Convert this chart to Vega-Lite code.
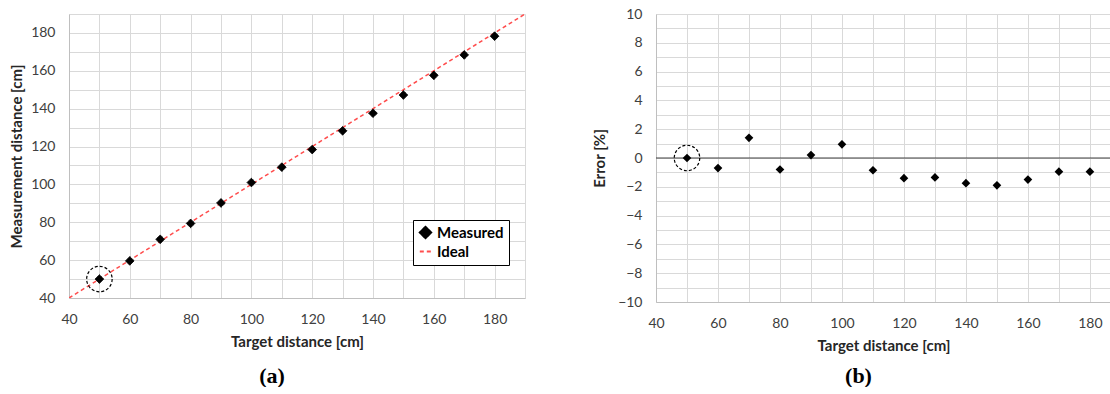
{
  "$schema": "https://vega.github.io/schema/vega-lite/v6.json",
  "padding": {"left": 9, "top": 7, "right": 0, "bottom": 0},
  "background": "white",
  "datasets": {
    "measured": [
      {"t": 50, "m": 50, "err": 0, "series": "Measured"},
      {"t": 60, "m": 59.6, "err": -0.7, "series": "Measured"},
      {"t": 70, "m": 71, "err": 1.4, "series": "Measured"},
      {"t": 80, "m": 79.4, "err": -0.8, "series": "Measured"},
      {"t": 90, "m": 90.2, "err": 0.2, "series": "Measured"},
      {"t": 100, "m": 101, "err": 0.95, "series": "Measured"},
      {"t": 110, "m": 109.1, "err": -0.85, "series": "Measured"},
      {"t": 120, "m": 118.4, "err": -1.4, "series": "Measured"},
      {"t": 130, "m": 128.3, "err": -1.35, "series": "Measured"},
      {"t": 140, "m": 137.6, "err": -1.75, "series": "Measured"},
      {"t": 150, "m": 147.2, "err": -1.9, "series": "Measured"},
      {"t": 160, "m": 157.6, "err": -1.5, "series": "Measured"},
      {"t": 170, "m": 168.4, "err": -0.95, "series": "Measured"},
      {"t": 180, "m": 178.3, "err": -0.95, "series": "Measured"}
    ],
    "ideal": [
      {"t": 40, "m": 40, "series": "Ideal"},
      {"t": 190, "m": 190, "series": "Ideal"}
    ],
    "circled": [{"t": 50, "m": 50, "err": 0}],
    "zero": [{"err": 0}]
  },
  "config": {
    "view": {"stroke": null},
    "font": "Lato",
    "axis": {
      "labelFont": "Lato", "labelFontSize": 14, "labelColor": "#404040",
      "titleFont": "Lato", "titleFontSize": 15, "titleFontWeight": "bold", "titleColor": "#262626",
      "gridColor": "#d9d9d9", "gridWidth": 1, "domainColor": "#bfbfbf",
      "ticks": false, "labelPadding": 14, "labelFlush": false, "labelOverlap": false, "tickCount": 200, "format": "d"
    }
  },
  "spacing": 67,
  "hconcat": [
    {
      "width": 456,
      "height": 284,
      "title": {"text": "(a)", "orient": "bottom", "font": "Liberation Serif", "fontSize": 22, "fontWeight": "bold", "color": "#000000", "dx": -25, "offset": 17},
      "layer": [
        {
          "data": {"name": "ideal"},
          "mark": {"type": "line", "strokeWidth": 1.5, "clip": true},
          "encoding": {
            "x": {"field": "t", "type": "quantitative", "scale": {"domain": [40, 190], "nice": false},
              "axis": {"title": "Target distance [cm]", "values": [40, 50, 60, 70, 80, 90, 100, 110, 120, 130, 140, 150, 160, 170, 180, 190], "labelExpr": "datum.value % 20 ? '' : datum.label", "titlePadding": 8, "tickCount": 200, "format": "d"}},
            "y": {"field": "m", "type": "quantitative", "scale": {"domain": [40, 190], "nice": false},
              "axis": {"title": "Measurement distance [cm]", "values": [40, 50, 60, 70, 80, 90, 100, 110, 120, 130, 140, 150, 160, 170, 180, 190], "labelExpr": "datum.value % 20 ? '' : datum.label", "titlePadding": 6, "tickCount": 200, "format": "d"}},
            "stroke": {"field": "series", "type": "nominal", "scale": {"domain": ["Measured", "Ideal"], "range": ["#000000", "#ff4d4d"]},
              "legend": {"title": null, "orient": "none", "legendX": 344, "legendY": 206, "strokeColor": "#000000", "fillColor": "#ffffff", "padding": 5, "labelFont": "Lato", "labelFontSize": 15, "labelFontWeight": "bold", "labelColor": "#000000", "symbolSize": 130, "symbolStrokeWidth": 2, "rowPadding": 1}},
            "strokeDash": {"field": "series", "type": "nominal", "scale": {"domain": ["Measured", "Ideal"], "range": [[1, 0], [4, 3]]},
              "legend": {"title": null, "orient": "none", "legendX": 344, "legendY": 206, "strokeColor": "#000000", "fillColor": "#ffffff", "padding": 5, "labelFont": "Lato", "labelFontSize": 15, "labelFontWeight": "bold", "labelColor": "#000000", "symbolSize": 130, "symbolStrokeWidth": 2, "rowPadding": 1}}
          }
        },
        {
          "data": {"name": "measured"},
          "mark": {"type": "point", "filled": true, "size": 75, "opacity": 1, "strokeWidth": 1},
          "encoding": {
            "x": {"field": "t", "type": "quantitative"},
            "y": {"field": "m", "type": "quantitative"},
            "fill": {"field": "series", "type": "nominal", "scale": {"domain": ["Measured", "Ideal"], "range": ["#000000", "#ff4d4d"]},
              "legend": {"title": null, "orient": "none", "legendX": 344, "legendY": 206, "strokeColor": "#000000", "fillColor": "#ffffff", "padding": 5, "labelFont": "Lato", "labelFontSize": 15, "labelFontWeight": "bold", "labelColor": "#000000", "symbolSize": 130, "symbolStrokeWidth": 2, "rowPadding": 1}},
            "stroke": {"field": "series", "type": "nominal"},
            "shape": {"field": "series", "type": "nominal", "scale": {"domain": ["Measured", "Ideal"], "range": ["diamond", "stroke"]},
              "legend": {"title": null, "orient": "none", "legendX": 344, "legendY": 206, "strokeColor": "#000000", "fillColor": "#ffffff", "padding": 5, "labelFont": "Lato", "labelFontSize": 15, "labelFontWeight": "bold", "labelColor": "#000000", "symbolSize": 130, "symbolStrokeWidth": 2, "rowPadding": 1}},
            "strokeDash": {"field": "series", "type": "nominal"}
          }
        },
        {
          "data": {"name": "circled"},
          "mark": {"type": "point", "shape": "circle", "size": 650, "filled": false, "stroke": "#000000", "strokeDash": [3, 2], "strokeWidth": 1.2, "opacity": 1},
          "encoding": {
            "x": {"field": "t", "type": "quantitative"},
            "y": {"field": "m", "type": "quantitative"}
          }
        }
      ]
    },
    {
      "width": 455,
      "height": 288,
      "title": {"text": "(b)", "orient": "bottom", "font": "Liberation Serif", "fontSize": 22, "fontWeight": "bold", "color": "#000000", "dx": -25, "offset": 13},
      "layer": [
        {
          "data": {"name": "zero"},
          "mark": {"type": "rule", "color": "#404040", "strokeWidth": 1.2},
          "encoding": {
            "y": {"field": "err", "type": "quantitative", "scale": {"domain": [-10, 10], "nice": false},
              "axis": {"title": "Error [%]", "values": [-10, -9, -8, -7, -6, -5, -4, -3, -2, -1, 0, 1, 2, 3, 4, 5, 6, 7, 8, 9, 10], "labelExpr": "datum.value % 2 ? '' : datum.label", "titlePadding": 10, "tickCount": 200, "format": "d"}}
          }
        },
        {
          "data": {"name": "measured"},
          "mark": {"type": "point", "filled": true, "size": 75, "color": "#000000", "opacity": 1, "shape": "diamond"},
          "encoding": {
            "x": {"field": "t", "type": "quantitative", "scale": {"domain": [40, 186.8], "nice": false},
              "axis": {"title": "Target distance [cm]", "values": [40, 50, 60, 70, 80, 90, 100, 110, 120, 130, 140, 150, 160, 170, 180], "labelExpr": "datum.value % 20 ? '' : datum.label", "titlePadding": 8, "tickCount": 200, "format": "d"}},
            "y": {"field": "err", "type": "quantitative"}
          }
        },
        {
          "data": {"name": "circled"},
          "mark": {"type": "point", "shape": "circle", "size": 650, "filled": false, "stroke": "#000000", "strokeDash": [3, 2], "strokeWidth": 1.2, "opacity": 1},
          "encoding": {
            "x": {"field": "t", "type": "quantitative"},
            "y": {"field": "err", "type": "quantitative"}
          }
        }
      ]
    }
  ]
}
